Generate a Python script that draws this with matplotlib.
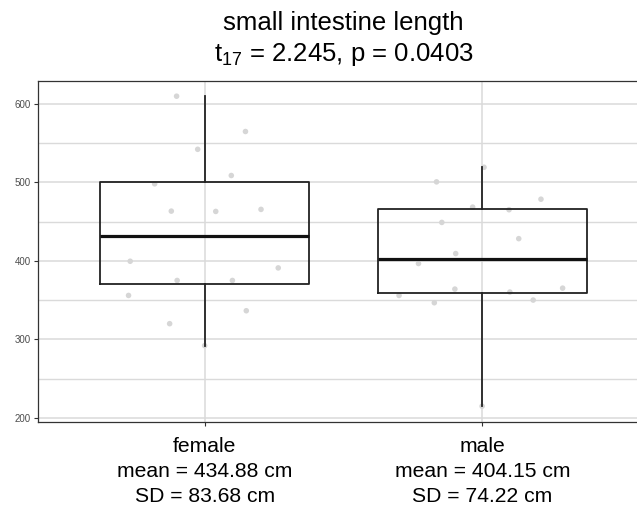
import matplotlib
matplotlib.use("Agg")
import matplotlib.pyplot as plt
import numpy as np

plt.rcParams['font.family'] = ['Liberation Sans', 'DejaVu Sans']

# data (cm)
groups = ['female', 'male']
female_len = [610, 565, 542.3, 508.9, 498.3, 463.5, 463.1, 465.7,
              399.6, 391.1, 375.1, 375.1, 356, 336.5, 320, 292]
female_jit = [-0.101, 0.147, -0.025, 0.096, -0.180, -0.120, 0.040, 0.203,
              -0.268, 0.265, -0.099, 0.100, -0.274, 0.150, -0.126, 0.0]
male_len = [519.4, 500.8, 478.7, 468.6, 465.3, 449.1, 428.4, 409.4,
            396.7, 364.1, 360.3, 365.3, 356, 346.7, 350.1, 214.8]
male_jit = [0.006, -0.165, 0.211, -0.035, 0.096, -0.146, 0.131, -0.096,
            -0.230, -0.099, 0.099, 0.289, -0.300, -0.173, 0.183, -0.001]
means = ['434.88', '404.15']
sds = ['83.68', '74.22']
title_lines = ['small intestine length', r'$\mathregular{t_{17}}$ = 2.245, p = 0.0403']

W, H = 637, 512
fig = plt.figure(figsize=(W / 100, H / 100), dpi=100)
# panel runs past the right edge (the reference is cropped there)
ax = fig.add_axes([38 / W, 1 - 421.7 / H, 611 / W, 341 / H])

grey20 = '#333333'
grid_c = '#dadada'

# points
for i, (vals, jit) in enumerate([(female_len, female_jit), (male_len, male_jit)]):
    xs = np.array(jit) + i + 1
    ax.scatter(xs, vals, s=16, color='#d6d6d6', edgecolors='none', zorder=2)

# boxes
ax.boxplot([female_len, male_len], positions=[1, 2], widths=0.75,
           showcaps=False, showfliers=False, patch_artist=False,
           boxprops=dict(color='#222222', linewidth=1.3),
           whiskerprops=dict(color='#222222', linewidth=1.3),
           medianprops=dict(color='#111111', linewidth=2.3),
           zorder=3)

allv = female_len + male_len
lo, hi = min(allv), max(allv)
r = hi - lo
ax.set_ylim(lo - 0.05 * r, hi + 0.05 * r)
ax.set_xlim(0.4, 2.6)

ax.set_yticks([200, 300, 400, 500, 600])
ax.set_yticks([250, 350, 450, 550], minor=True)
ax.yaxis.grid(True, which='major', color=grid_c, linewidth=1.1, zorder=0)
ax.yaxis.grid(True, which='minor', color=grid_c, linewidth=1.0, zorder=0)
ax.xaxis.grid(True, which='major', color=grid_c, linewidth=1.1, zorder=0)
ax.set_axisbelow(True)

ax.set_xticks([1, 2])
ax.set_xticklabels([f'{g}\nmean = {m} cm\nSD = {s} cm'
                    for g, m, s in zip(groups, means, sds)],
                   fontsize=15.2, linespacing=1.41)
ax.tick_params(axis='x', length=3, width=0.8, color=grey20, pad=8)
ax.tick_params(axis='y', which='major', length=3, width=0.8, color=grey20,
               labelsize=7, labelcolor='#4d4d4d', pad=2)
ax.tick_params(axis='y', which='minor', length=0)

for sp in ax.spines.values():
    sp.set_color(grey20)
    sp.set_linewidth(0.9)

ax.set_title('\n'.join(title_lines), fontsize=18.5, linespacing=1.3, pad=14)

fig.savefig('out.png', dpi=100)
